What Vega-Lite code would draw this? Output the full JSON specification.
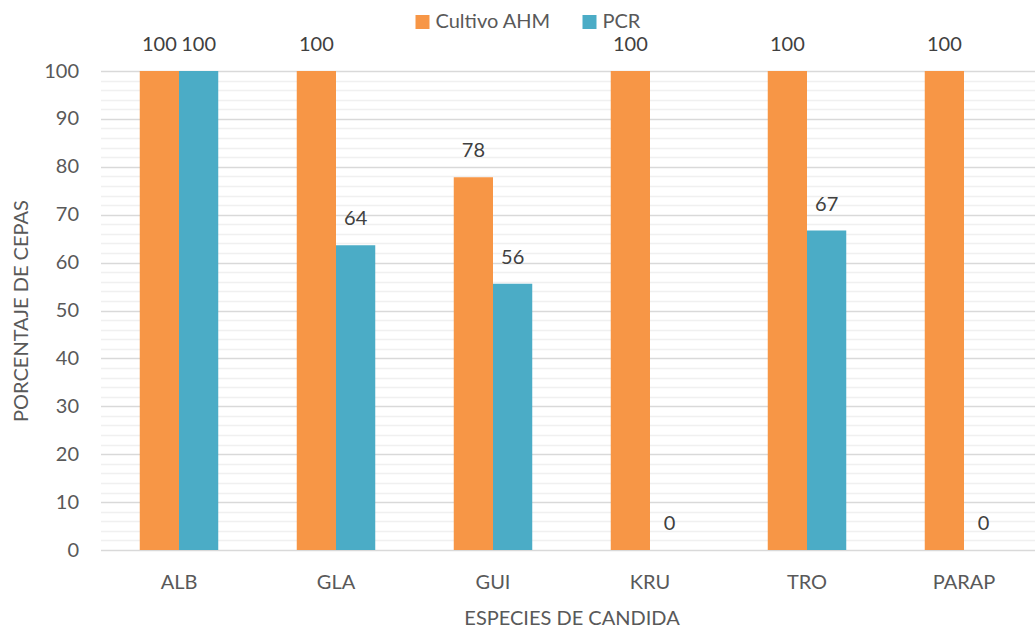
{
  "$schema": "https://vega.github.io/schema/vega-lite/v6.json",
  "autosize": {"type": "none"},
  "padding": {"left": 100.5, "top": 71, "right": 0, "bottom": 81},
  "width": 942,
  "height": 479,
  "background": "white",
  "config": {
    "font": "Lato",
    "view": {"stroke": null}
  },
  "data": {
    "values": [
      {"especie": "ALB", "metodo": "Cultivo AHM", "pct": 100},
      {"especie": "ALB", "metodo": "PCR", "pct": 100},
      {"especie": "GLA", "metodo": "Cultivo AHM", "pct": 100},
      {"especie": "GLA", "metodo": "PCR", "pct": 63.6},
      {"especie": "GUI", "metodo": "Cultivo AHM", "pct": 77.8},
      {"especie": "GUI", "metodo": "PCR", "pct": 55.6},
      {"especie": "KRU", "metodo": "Cultivo AHM", "pct": 100},
      {"especie": "KRU", "metodo": "PCR", "pct": 0},
      {"especie": "TRO", "metodo": "Cultivo AHM", "pct": 100},
      {"especie": "TRO", "metodo": "PCR", "pct": 66.7},
      {"especie": "PARAP", "metodo": "Cultivo AHM", "pct": 100},
      {"especie": "PARAP", "metodo": "PCR", "pct": 0}
    ]
  },
  "encoding": {
    "x": {
      "field": "especie",
      "type": "nominal",
      "sort": ["ALB", "GLA", "GUI", "KRU", "TRO", "PARAP"],
      "scale": {"paddingInner": 0.5, "paddingOuter": 0.25},
      "axis": {
        "title": "ESPECIES DE CANDIDA",
        "labelAngle": 0,
        "labelFontSize": 20,
        "labelColor": "#595959",
        "labelPadding": 22,
        "titleFontSize": 20,
        "titleFontWeight": "normal",
        "titleColor": "#595959",
        "titlePadding": 16,
        "domain": false,
        "ticks": false
      }
    },
    "xOffset": {"field": "metodo", "type": "nominal", "sort": ["Cultivo AHM", "PCR"], "scale": {"paddingInner": 0, "paddingOuter": 0}},
    "y": {
      "field": "pct",
      "type": "quantitative",
      "scale": {"domain": [0, 100], "nice": false},
      "axis": {
        "title": "PORCENTAJE DE CEPAS",
        "values": [0, 2, 4, 6, 8, 10, 12, 14, 16, 18, 20, 22, 24, 26, 28, 30, 32, 34, 36, 38, 40, 42, 44, 46, 48, 50, 52, 54, 56, 58, 60, 62, 64, 66, 68, 70, 72, 74, 76, 78, 80, 82, 84, 86, 88, 90, 92, 94, 96, 98, 100],
        "labelExpr": "datum.value % 10 === 0 ? datum.label : ''",
        "labelOverlap": false,
        "labelFontSize": 20,
        "labelColor": "#595959",
        "labelPadding": 22,
        "grid": true,
        "gridColor": {"condition": {"test": "datum.value % 10 === 0", "value": "#d9d9d9"}, "value": "#f0f0f0"},
        "gridWidth": 1.3,
        "domain": false,
        "ticks": false,
        "titleFontSize": 20,
        "titleFontWeight": "normal",
        "titleColor": "#595959",
        "titlePadding": 12
      }
    }
  },
  "layer": [
    {
      "mark": {"type": "bar"},
      "encoding": {
        "color": {
          "field": "metodo",
          "type": "nominal",
          "sort": ["Cultivo AHM", "PCR"],
          "scale": {"domain": ["Cultivo AHM", "PCR"], "range": ["#F79646", "#4BACC6"]},
          "legend": {
            "title": null,
            "orient": "none",
            "direction": "horizontal",
            "legendX": 312,
            "legendY": -59,
            "symbolType": "square",
            "symbolSize": 196,
            "symbolStrokeWidth": 0,
            "labelFontSize": 20,
            "labelColor": "#595959",
            "labelOffset": 3,
            "columnPadding": 28
          }
        }
      }
    },
    {
      "mark": {"type": "text", "baseline": "alphabetic", "dy": -20, "fontSize": 20, "color": "#404040"},
      "encoding": {
        "text": {"field": "pct", "type": "quantitative", "format": ".0f"}
      }
    }
  ]
}
